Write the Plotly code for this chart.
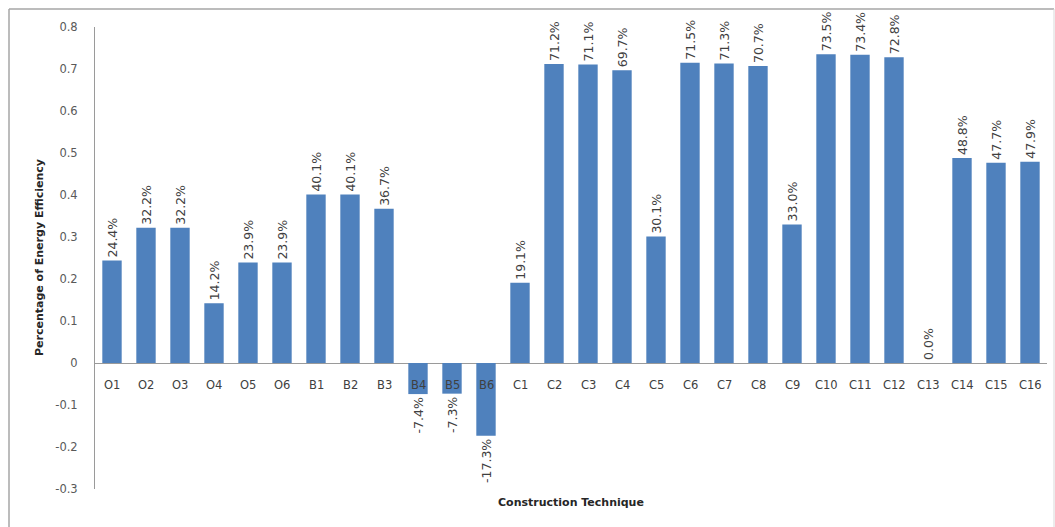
import plotly.graph_objects as go

categories = ["O1", "O2", "O3", "O4", "O5", "O6", "B1", "B2", "B3", "B4", "B5", "B6",
              "C1", "C2", "C3", "C4", "C5", "C6", "C7", "C8", "C9", "C10", "C11", "C12",
              "C13", "C14", "C15", "C16"]
efficiency = [0.244, 0.322, 0.322, 0.142, 0.239, 0.239, 0.401, 0.401, 0.367, -0.074, -0.073, -0.173,
              0.191, 0.712, 0.711, 0.697, 0.301, 0.715, 0.713, 0.707, 0.330, 0.735, 0.734, 0.728,
              0.000, 0.488, 0.477, 0.479]
y_tickvals = [0.8, 0.7, 0.6, 0.5, 0.4, 0.3, 0.2, 0.1, 0, -0.1, -0.2, -0.3]
y_ticktext = ["0.8", "0.7", "0.6", "0.5", "0.4", "0.3", "0.2", "0.1", "0", "-0.1", "-0.2", "-0.3"]

FONT = "DejaVu Sans"
W, H = 1055, 527
L, R, T, B = 95, 8, 27, 38
pw = W - L - R
ph = H - T - B

fig = go.Figure()
fig.add_trace(go.Bar(
    x=categories, y=efficiency,
    marker=dict(color="#4F81BD", line=dict(width=0)),
    texttemplate="%{y:.1%}", textposition="outside", textangle=-90,
    constraintext="none",
    textfont=dict(family=FONT, size=12.5, color="#404040"),
    cliponaxis=False,
))

annotations = []
for c in categories:
    annotations.append(dict(x=c, y=0, xref="x", yref="y", text=c, showarrow=False,
                            yanchor="top", yshift=-13,
                            font=dict(family=FONT, size=11.5, color="#404040")))
annotations.append(dict(x=0.5, xref="paper", y=(H - 502 - B) / ph, yref="paper",
                        text="<b>Construction Technique</b>", showarrow=False,
                        yanchor="middle", xanchor="center",
                        font=dict(family=FONT, size=11, color="#262626")))
annotations.append(dict(x=(39 - L) / pw, xref="paper", y=0.5, yref="paper",
                        text="<b>Percentage of Energy Efficiency</b>", showarrow=False,
                        textangle=-90, xanchor="center", yanchor="middle",
                        font=dict(family=FONT, size=11, color="#262626")))

def px_x(p):
    return (p - L) / pw

def px_y(p):
    return (H - B - p) / ph

shapes = [
    dict(type="line", xref="paper", yref="paper", x0=px_x(9), x1=px_x(9), y0=px_y(9), y1=px_y(530),
         line=dict(color="#A6A6A6", width=1.5)),
    dict(type="line", xref="paper", yref="paper", x0=px_x(9), x1=px_x(1054), y0=px_y(9), y1=px_y(9),
         line=dict(color="#A6A6A6", width=1.5)),
    dict(type="line", xref="paper", yref="paper", x0=px_x(1054), x1=px_x(1054), y0=px_y(9), y1=px_y(530),
         line=dict(color="#D9D9D9", width=1)),
]

fig.update_layout(
    width=W, height=H,
    margin=dict(l=L, r=R, t=T, b=B, autoexpand=False),
    paper_bgcolor="white", plot_bgcolor="white",
    showlegend=False,
    bargap=0.43,
    annotations=annotations,
    shapes=shapes,
    xaxis=dict(showticklabels=False, showgrid=False, zeroline=False, showline=False, ticks="",
               automargin=False),
    yaxis=dict(range=[-0.3, 0.8], tickvals=y_tickvals, ticktext=y_ticktext,
               showgrid=False, zeroline=True, zerolinecolor="#9A9A9A", zerolinewidth=1,
               showline=True, linecolor="#9A9A9A", linewidth=1, ticks="",
               ticklabelstandoff=14, automargin=False,
               tickfont=dict(family=FONT, size=11.5, color="#595959")),
)

fig.write_html("out.html", config={"displayModeBar": False},
               post_script="document.body.style.margin='0';")
